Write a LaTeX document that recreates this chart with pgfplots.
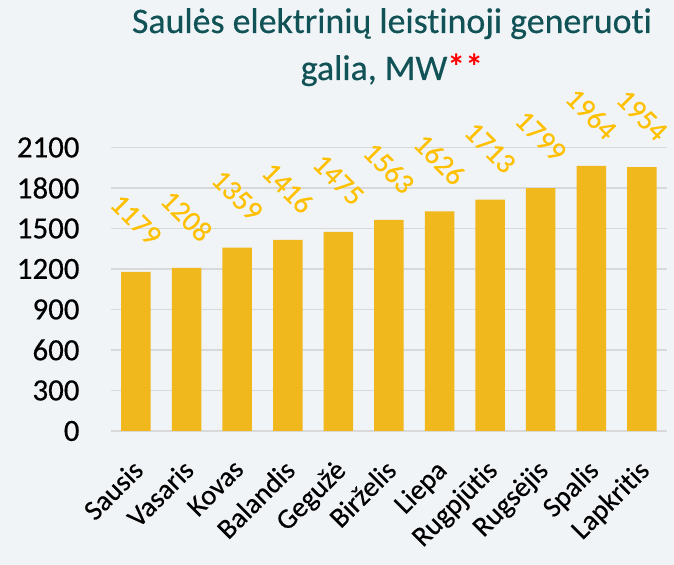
\documentclass[border=0pt]{standalone}
\usepackage{pgfplots}
\pgfplotsset{compat=1.18}
\usepackage{fontspec}
\setmainfont{Carlito}[Ligatures=NoCommon, UprightFeatures={FakeBold=0.4}]
\definecolor{bgc}{RGB}{240,244,247}
\definecolor{barc}{RGB}{240,184,28}
\definecolor{lblc}{RGB}{255,192,0}
\definecolor{titc}{RGB}{16,82,86}
\definecolor{gridc}{RGB}{217,217,217}
\begin{document}
\begin{tikzpicture}
\fill[bgc] (0,0) rectangle (674bp,-565bp);
\node[anchor=base, text=titc, font=\fontsize{36}{40}\selectfont, inner sep=0pt] at (392bp,-33bp) {Saulės elektrinių leistinoji generuoti};
\node[anchor=base, text=titc, font=\fontsize{36}{40}\selectfont, inner sep=0pt] at (392bp,-80bp) {galia, MW\textcolor{red}{\textbf{**}}};
\begin{axis}[
  at={(110.7bp,-431bp)}, anchor=south west,
  scale only axis,
  width=556.6bp, height=283.5bp,
  xmin=-0.5, xmax=10.5,
  ymin=0, ymax=2100,
  ytick={0,300,...,2100},
  xtick=data,
  xticklabels={Sausis,Vasaris,Kovas,Balandis,Gegužė,Birželis,Liepa,Rugpjūtis,Rugsėjis,Spalis,Lapkritis},
  axis line style={draw=none},
  major tick length=0pt,
  ymajorgrids,
  grid style={color=gridc, line width=1.3bp},
  /pgf/number format/assume math mode=true,
  /pgf/number format/1000 sep={},
  yticklabel style={font=\fontsize{31}{34}\selectfont, inner sep=0pt, xshift=-31bp, anchor=east},
  xticklabel style={font=\fontsize{28.5}{32}\selectfont, inner sep=0pt, yshift=-27bp, xshift=-5bp, rotate=45, anchor=north east},
  clip=false,
  ybar, bar width=29.5bp,
  nodes near coords,
  every node near coord/.append style={font=\fontsize{29}{32}\selectfont, text=lblc, anchor=center, yshift=52bp, rotate=-45},
]
\addplot[fill=barc, draw=none] coordinates {
(0,1179) (1,1208) (2,1359) (3,1416) (4,1475) (5,1563) (6,1626) (7,1713) (8,1799) (9,1964) (10,1954)
};
\end{axis}
\end{tikzpicture}
\end{document}
